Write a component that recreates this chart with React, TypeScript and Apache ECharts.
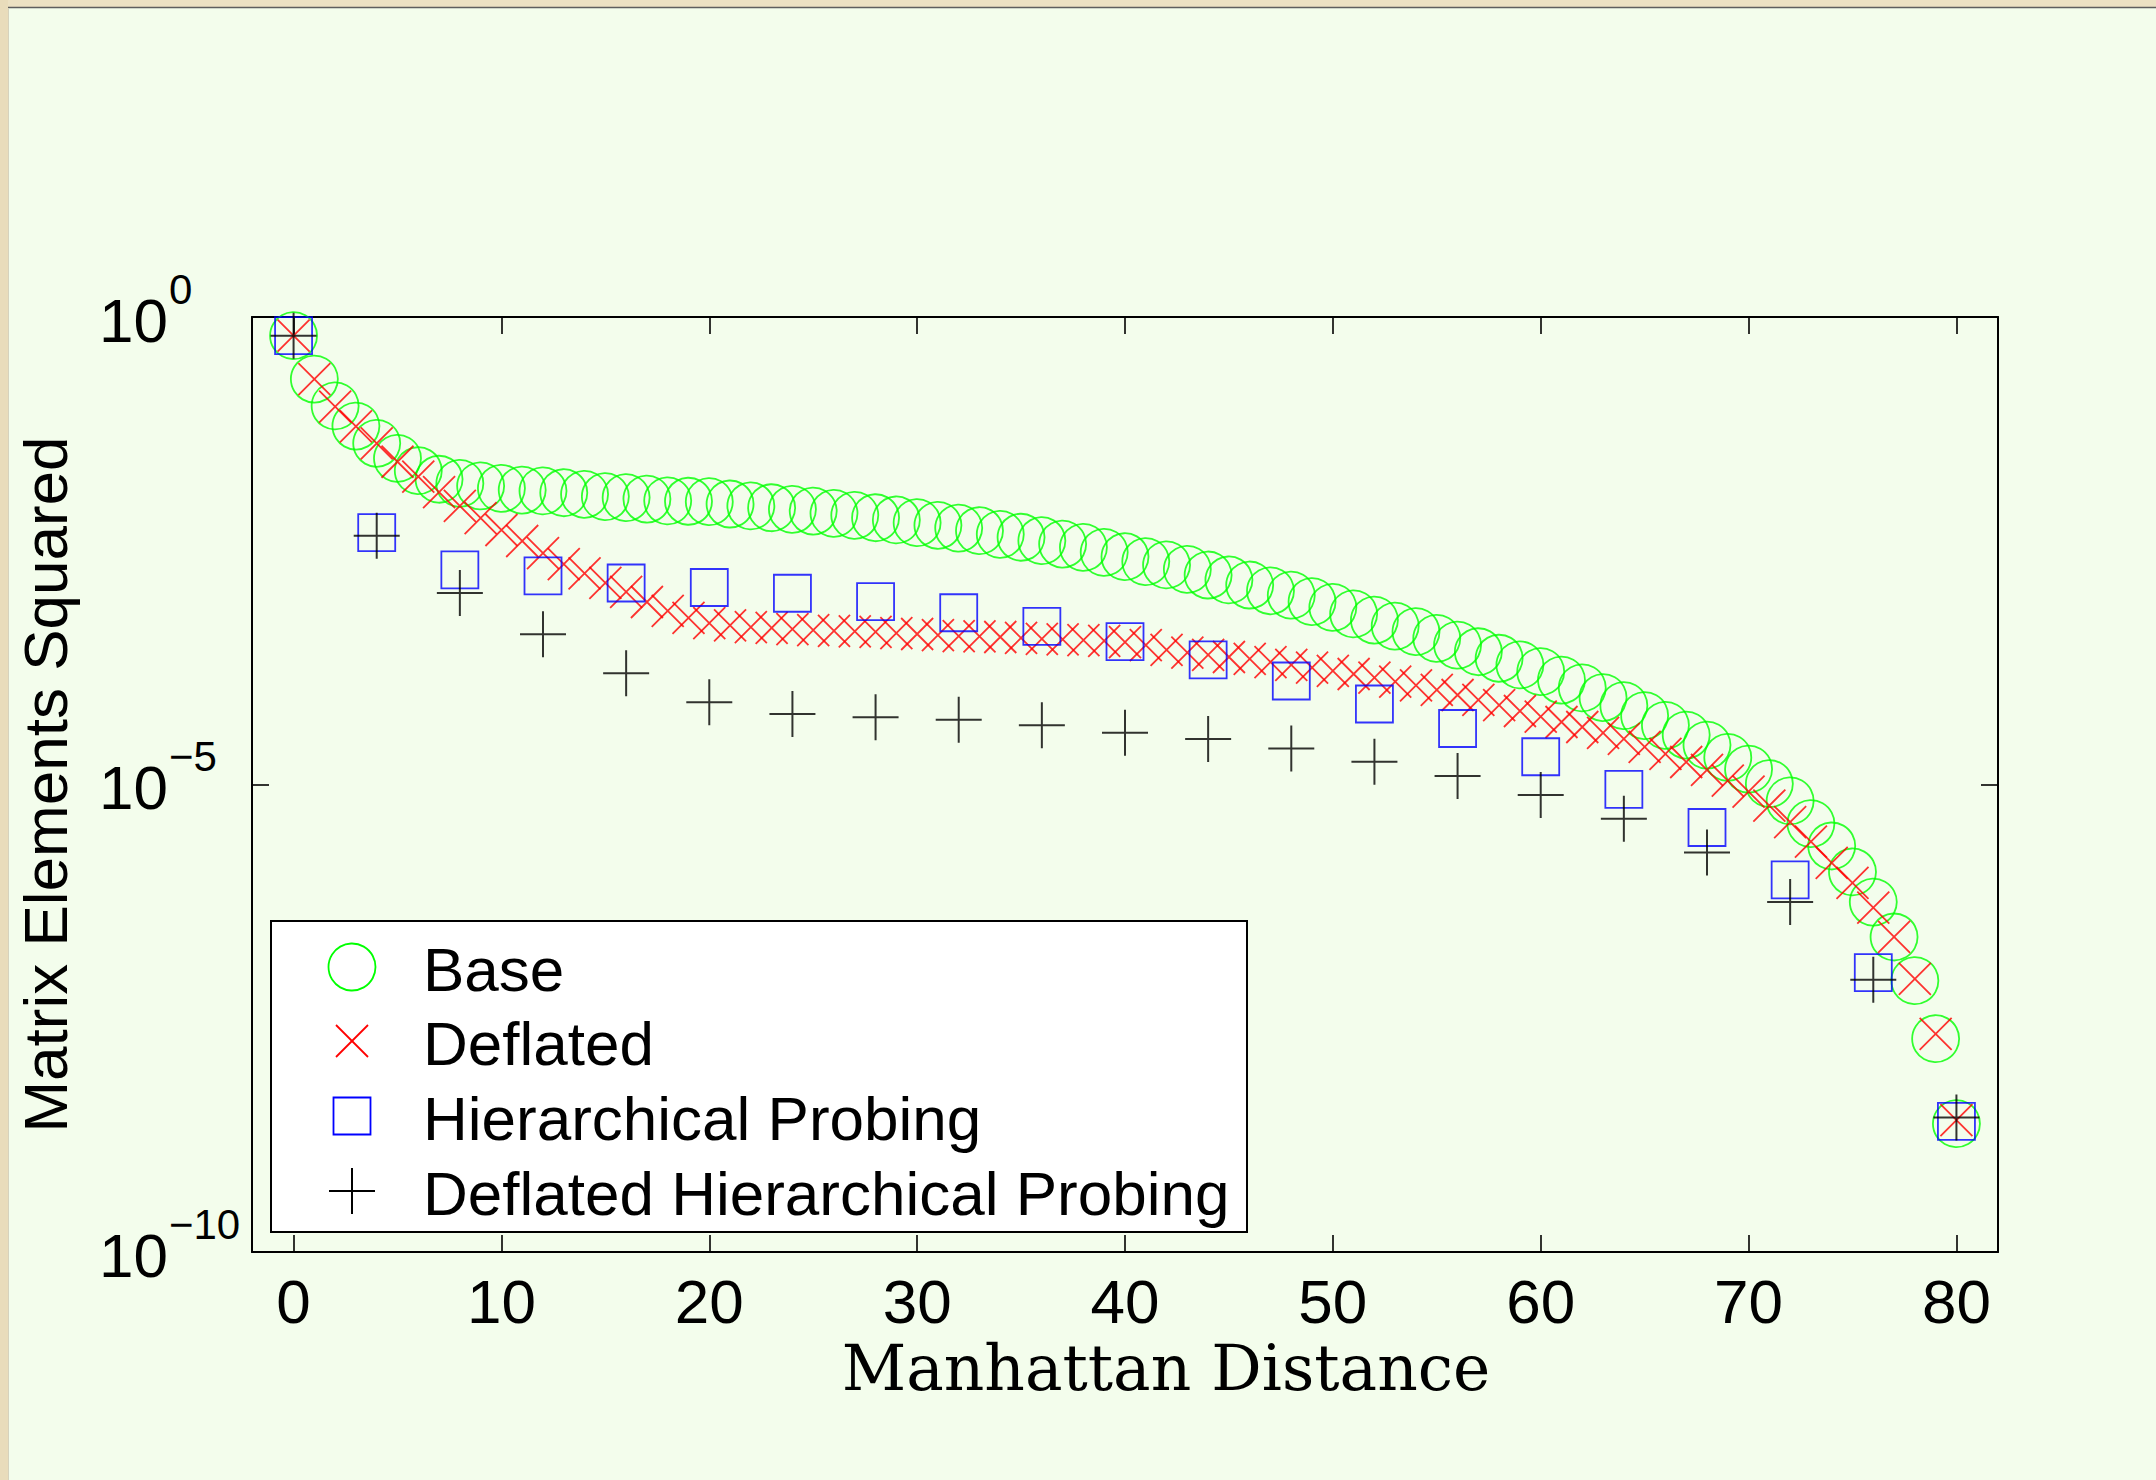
import React, { useEffect, useRef } from "react";
import * as echarts from "echarts";

// ---- data ----
const DIST_ALL = [
  0, 1, 2, 3, 4, 5, 6, 7, 8, 9,
  10, 11, 12, 13, 14, 15, 16, 17, 18, 19,
  20, 21, 22, 23, 24, 25, 26, 27, 28, 29,
  30, 31, 32, 33, 34, 35, 36, 37, 38, 39,
  40, 41, 42, 43, 44, 45, 46, 47, 48, 49,
  50, 51, 52, 53, 54, 55, 56, 57, 58, 59,
  60, 61, 62, 63, 64, 65, 66, 67, 68, 69,
  70, 71, 72, 73, 74, 75, 76, 77, 78, 79,
  80,
];
const DIST_PROBE = [0, 4, 8, 12, 16, 20, 24, 28, 32, 36, 40, 44, 48, 52, 56, 60, 64, 68, 72, 76, 80];

const BASE = [
  0.631, 0.217, 0.112, 6.82e-2, 4.46e-2, 3.08e-2, 2.27e-2, 1.84e-2, 1.66e-2, 1.56e-2,
  1.47e-2, 1.41e-2, 1.38e-2, 1.32e-2, 1.27e-2, 1.2e-2, 1.17e-2, 1.13e-2, 1.08e-2, 1.07e-2,
  1.06e-2, 1.0e-2, 9.53e-3, 9.12e-3, 8.77e-3, 8.41e-3, 7.94e-3, 7.57e-3, 7.13e-3, 6.75e-3,
  6.31e-3, 5.92e-3, 5.53e-3, 5.18e-3, 4.74e-3, 4.41e-3, 4.05e-3, 3.73e-3, 3.44e-3, 3.04e-3,
  2.73e-3, 2.42e-3, 2.23e-3, 2.0e-3, 1.74e-3, 1.54e-3, 1.36e-3, 1.18e-3, 1.06e-3, 9.02e-4,
  7.85e-4, 6.67e-4, 5.74e-4, 4.95e-4, 4.31e-4, 3.66e-4, 3.1e-4, 2.63e-4, 2.24e-4, 1.9e-4,
  1.61e-4, 1.31e-4, 1.08e-4, 8.51e-5, 6.97e-5, 5.45e-5, 4.29e-5, 3.38e-5, 2.64e-5, 1.95e-5,
  1.46e-5, 1.02e-5, 6.67e-6, 3.82e-6, 2.2e-6, 1.16e-6, 5.53e-7, 2.34e-7, 7.98e-8, 1.91e-8,
  2.36e-9,
];

const DEFLATED = [
  0.631, 0.217, 0.11, 6.75e-2, 4.44e-2, 2.83e-2, 1.96e-2, 1.34e-2, 9.53e-3, 7.08e-3,
  5.27e-3, 4.02e-3, 2.99e-3, 2.28e-3, 1.81e-3, 1.43e-3, 1.15e-3, 8.95e-4, 7.18e-4, 6.04e-4,
  5.33e-4, 5.02e-4, 4.83e-4, 4.72e-4, 4.6e-4, 4.49e-4, 4.39e-4, 4.33e-4, 4.28e-4, 4.17e-4,
  4.07e-4, 3.97e-4, 3.87e-4, 3.83e-4, 3.78e-4, 3.69e-4, 3.6e-4, 3.56e-4, 3.51e-4, 3.43e-4,
  3.34e-4, 3.1e-4, 2.75e-4, 2.57e-4, 2.43e-4, 2.31e-4, 2.2e-4, 2.04e-4, 1.9e-4, 1.78e-4,
  1.64e-4, 1.52e-4, 1.39e-4, 1.26e-4, 1.15e-4, 1.03e-4, 9.06e-5, 8.02e-5, 7.08e-5, 6.11e-5,
  5.33e-5, 4.66e-5, 4.12e-5, 3.56e-5, 3.07e-5, 2.52e-5, 2.12e-5, 1.74e-5, 1.43e-5, 1.1e-5,
  8.41e-6, 5.96e-6, 3.97e-6, 2.45e-6, 1.45e-6, 8.85e-7, 4.83e-7, 2.34e-7, 8.32e-8, 2.15e-8,
  2.58e-9,
];

const HIER_PROBING = [
  0.631, 4.95e-3, 1.97e-3, 1.7e-3, 1.43e-3, 1.28e-3, 1.11e-3, 9.02e-4, 6.87e-4, 4.9e-4,
  3.38e-4, 2.15e-4, 1.28e-4, 7.26e-5, 3.97e-5, 1.98e-5, 8.85e-6, 3.47e-6, 9.53e-7, 9.75e-8,
  2.5e-9,
];

const DEFL_HIER_PROBING = [
  0.631, 4.58e-3, 1.12e-3, 4.04e-4, 1.55e-4, 7.57e-5, 5.68e-5, 5.24e-5, 4.93e-5, 4.3e-5,
  3.58e-5, 3.07e-5, 2.42e-5, 1.75e-5, 1.23e-5, 7.73e-6, 4.31e-6, 1.87e-6, 5.53e-7, 8.18e-8,
  2.75e-9,
];

const X_TICKS = [0, 10, 20, 30, 40, 50, 60, 70, 80];
const Y_TICKS = [1e-10, 1e-5, 1];

const SERIES_NAMES = ["Base", "Deflated", "Hierarchical Probing", "Deflated Hierarchical Probing"];
const X_TITLE = "Manhattan Distance";
const Y_TITLE = "Matrix Elements Squared";

// ---- styles ----
const SANS = "'Liberation Sans', Arial, Helvetica, sans-serif";
const SERIF = "'DejaVu Serif', 'Liberation Serif', serif";
const BG = "#f3fdec";
const GREEN = "#00ff00";
const RED = "#ff0000";
const BLUE = "#0000ff";
const BLACK = "#000000";

const GRID = { left: 252, top: 317, width: 1746, height: 935 };
const X_PATH = "path://M0,0L10,10M10,0L0,10";
const PLUS_PATH = "path://M5,0L5,10M0,5L10,5";

function pair(xs: number[], ys: number[]) {
  return xs.map((x, i) => [x, ys[i]]);
}

function expLabel(v: number) {
  const e = Math.round(Math.log10(v));
  const s = e < 0 ? "\u2212" + String(-e) : String(e);
  return "{b|10}{s|" + s + "}";
}

export default function App() {
  const ref = useRef<HTMLDivElement>(null);

  useEffect(() => {
    if (!ref.current) return;
    const chart = echarts.init(ref.current, null, { renderer: "svg", width: 2156, height: 1480 });

    const axisLine = { show: true, onZero: false, lineStyle: { color: BLACK, width: 2 } };
    const tickStyle = { color: BLACK, width: 1.6 };

    const legendX = 352;
    const legendRows = [967, 1041, 1116, 1191];
    const textX = 423;

    const legendGraphics: any[] = [
      {
        type: "rect",
        shape: { x: 271, y: 921, width: 976, height: 311 },
        style: { fill: "#ffffff", stroke: BLACK, lineWidth: 2 },
        z: 100,
      },
      {
        type: "circle",
        shape: { cx: legendX, cy: legendRows[0], r: 23.5 },
        style: { fill: "none", stroke: GREEN, lineWidth: 1.8 },
        z: 101,
      },
      {
        type: "line",
        shape: { x1: legendX - 16, y1: legendRows[1] - 16, x2: legendX + 16, y2: legendRows[1] + 16 },
        style: { stroke: RED, lineWidth: 1.8 },
        z: 101,
      },
      {
        type: "line",
        shape: { x1: legendX + 16, y1: legendRows[1] - 16, x2: legendX - 16, y2: legendRows[1] + 16 },
        style: { stroke: RED, lineWidth: 1.8 },
        z: 101,
      },
      {
        type: "rect",
        shape: { x: legendX - 18.5, y: legendRows[2] - 18.5, width: 37, height: 37 },
        style: { fill: "none", stroke: BLUE, lineWidth: 1.8 },
        z: 101,
      },
      {
        type: "line",
        shape: { x1: legendX - 23, y1: legendRows[3], x2: legendX + 23, y2: legendRows[3] },
        style: { stroke: BLACK, lineWidth: 2 },
        z: 101,
      },
      {
        type: "line",
        shape: { x1: legendX, y1: legendRows[3] - 23, x2: legendX, y2: legendRows[3] + 23 },
        style: { stroke: BLACK, lineWidth: 2 },
        z: 101,
      },
    ];
    SERIES_NAMES.forEach((name, i) => {
      legendGraphics.push({
        type: "text",
        x: textX,
        y: legendRows[i] + 2,
        style: {
          text: name,
          fill: BLACK,
          fontSize: 62,
          fontFamily: SANS,
          textAlign: "left",
          textVerticalAlign: "middle",
          verticalAlign: "middle",
        },
        z: 102,
      });
    });

    const frameGraphics: any[] = [
      { type: "rect", shape: { x: 0, y: 0, width: 2156, height: 7 }, style: { fill: "#ece1c3" }, z: 0 },
      { type: "rect", shape: { x: 0, y: 0, width: 8, height: 1480 }, style: { fill: "#e9dcbb" }, z: 0 },
      { type: "line", shape: { x1: 8, y1: 7.5, x2: 2156, y2: 7.5 }, style: { stroke: "#5e5e5e", lineWidth: 1.5 }, z: 1 },
      { type: "line", shape: { x1: 8.5, y1: 8, x2: 8.5, y2: 1480 }, style: { stroke: "#d6d2bd", lineWidth: 1 }, z: 1 },
    ];

    chart.setOption({
      animation: false,
      backgroundColor: BG,
      grid: { ...GRID, containLabel: false },
      xAxis: [
        {
          type: "value",
          position: "bottom",
          min: -2,
          max: 82,
          axisLine,
          axisTick: { show: true, inside: true, length: 17, lineStyle: tickStyle, customValues: X_TICKS },
          axisLabel: {
            show: true,
            customValues: X_TICKS,
            color: BLACK,
            fontSize: 62,
            fontFamily: SANS,
            margin: 18,
          },
          splitLine: { show: false },
          name: X_TITLE,
          nameLocation: "middle",
          nameGap: 82,
          nameTextStyle: { color: BLACK, fontSize: 63, fontFamily: SERIF, padding: [0, 0, 0, 82] },
        },
        {
          type: "value",
          position: "top",
          min: -2,
          max: 82,
          axisLine,
          axisTick: { show: true, inside: true, length: 17, lineStyle: tickStyle, customValues: X_TICKS },
          axisLabel: { show: false },
          splitLine: { show: false },
        },
      ],
      yAxis: [
        {
          type: "log",
          logBase: 10,
          position: "left",
          min: 1e-10,
          max: 1,
          axisLine,
          axisTick: { show: true, inside: true, length: 17, lineStyle: tickStyle, customValues: Y_TICKS },
          minorTick: { show: false },
          axisLabel: {
            show: true,
            customValues: Y_TICKS,
            formatter: expLabel,
            align: "left",
            margin: 153,
            padding: [0, 0, 42, 0],
            rich: {
              b: {
                fontSize: 62,
                fontFamily: SANS,
                color: BLACK,
                lineHeight: 62,
                padding: [24, 0, 18, 0],
                verticalAlign: "top",
              },
              s: {
                fontSize: 42,
                fontFamily: SANS,
                color: BLACK,
                lineHeight: 42,
                padding: [3, 0, 0, 1],
                verticalAlign: "top",
              },
            },
          },
          splitLine: { show: false },
          name: Y_TITLE,
          nameLocation: "middle",
          nameRotate: 90,
          nameGap: 176,
          nameTextStyle: { color: BLACK, fontSize: 62, fontFamily: SANS },
        },
        {
          type: "log",
          logBase: 10,
          position: "right",
          min: 1e-10,
          max: 1,
          axisLine,
          axisTick: { show: true, inside: true, length: 17, lineStyle: tickStyle, customValues: Y_TICKS },
          minorTick: { show: false },
          axisLabel: { show: false },
          splitLine: { show: false },
        },
      ],
      series: [
        {
          type: "scatter",
          name: SERIES_NAMES[0],
          data: pair(DIST_ALL, BASE),
          symbol: "circle",
          symbolSize: 47,
          itemStyle: { color: "rgba(0,0,0,0)", borderColor: GREEN, borderWidth: 1.8 },
          silent: true,
          emphasis: { disabled: true },
          z: 2,
        },
        {
          type: "scatter",
          name: SERIES_NAMES[1],
          data: pair(DIST_ALL, DEFLATED),
          symbol: X_PATH,
          symbolSize: 32,
          itemStyle: { color: "rgba(0,0,0,0)", borderColor: RED, borderWidth: 1.8 },
          silent: true,
          emphasis: { disabled: true },
          z: 3,
        },
        {
          type: "scatter",
          name: SERIES_NAMES[2],
          data: pair(DIST_PROBE, HIER_PROBING),
          symbol: "rect",
          symbolSize: 37,
          itemStyle: { color: "rgba(0,0,0,0)", borderColor: BLUE, borderWidth: 1.8 },
          silent: true,
          emphasis: { disabled: true },
          z: 4,
        },
        {
          type: "scatter",
          name: SERIES_NAMES[3],
          data: pair(DIST_PROBE, DEFL_HIER_PROBING),
          symbol: PLUS_PATH,
          symbolSize: 46,
          itemStyle: { color: "rgba(0,0,0,0)", borderColor: BLACK, borderWidth: 2 },
          silent: true,
          emphasis: { disabled: true },
          z: 5,
        },
      ],
      graphic: [...frameGraphics, ...legendGraphics],
    });

    return () => chart.dispose();
  }, []);

  return (
    <div
      ref={ref}
      style={{ position: "fixed", left: 0, top: 0, width: 2156, height: 1480, margin: 0 }}
    />
  );
}
